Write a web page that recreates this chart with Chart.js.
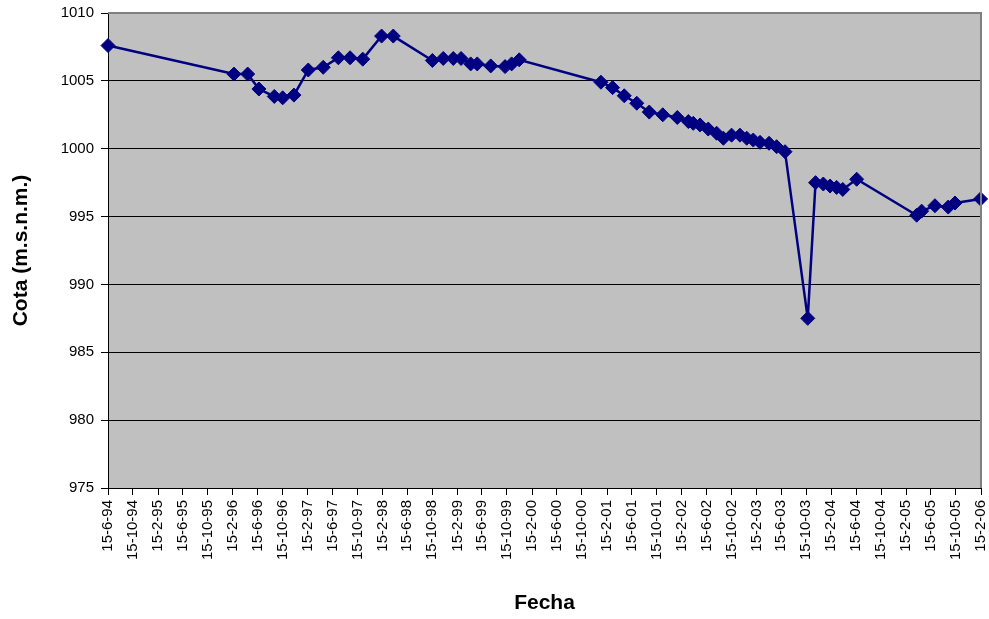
<!DOCTYPE html>
<html lang="es">
<head>
<meta charset="utf-8">
<title>Cota vs Fecha</title>
<script src="https://cdn.jsdelivr.net/npm/chart.js@4"></script>
<style>
  html, body { margin: 0; padding: 0; background: #ffffff; }
  #wrap { width: 989px; height: 619px; }
</style>
</head>
<body>
<div id="wrap"><canvas id="grafico" width="989" height="619"></canvas></div>
<script>
// Fechas de medición (AAAA-MM-DD)
const fechas = [
  "1994-06-15","1996-02-20","1996-04-27","1996-06-21","1996-09-04","1996-10-15",
  "1996-12-09","1997-02-17","1997-05-01","1997-07-14","1997-09-09","1997-11-10",
  "1998-02-10","1998-04-08","1998-10-16","1998-12-08","1999-01-26","1999-03-05",
  "1999-04-21","1999-05-23","1999-07-28","1999-10-06","1999-11-07","1999-12-14",
  "2001-01-16","2001-03-14","2001-05-10","2001-07-10","2001-09-09","2001-11-14",
  "2002-01-24","2002-03-19","2002-04-12","2002-05-15","2002-06-24","2002-08-04",
  "2002-09-06","2002-10-16","2002-11-26","2002-12-29","2003-01-30","2003-03-04",
  "2003-04-17","2003-05-24","2003-07-04","2003-10-23","2003-11-30","2004-01-07",
  "2004-02-09","2004-03-12","2004-04-11","2004-06-18","2005-04-07","2005-05-01",
  "2005-07-05","2005-09-08","2005-10-11","2006-02-13"
];

// Cota del nivel (m.s.n.m.)
const cotas = [
  1007.6, 1005.5, 1005.5, 1004.4, 1003.85, 1003.75,
  1003.95, 1005.8, 1006.0, 1006.7, 1006.7, 1006.6,
  1008.3, 1008.3, 1006.5, 1006.65, 1006.65, 1006.65,
  1006.25, 1006.25, 1006.1, 1006.05, 1006.25, 1006.55,
  1004.9, 1004.5, 1003.9, 1003.35, 1002.7, 1002.5,
  1002.3, 1002.0, 1001.87, 1001.75, 1001.45, 1001.14,
  1000.77, 1001.0, 1001.0, 1000.77, 1000.64, 1000.47,
  1000.4, 1000.15, 999.78, 987.5, 997.5, 997.4,
  997.25, 997.15, 997.0, 997.75, 995.1, 995.4,
  995.8, 995.7, 996.0, 996.3
];

// Etiquetas del eje de fechas (cada 4 meses)
const etiquetasFecha = [
  "15-6-94","15-10-94","15-2-95","15-6-95","15-10-95","15-2-96","15-6-96","15-10-96",
  "15-2-97","15-6-97","15-10-97","15-2-98","15-6-98","15-10-98","15-2-99","15-6-99",
  "15-10-99","15-2-00","15-6-00","15-10-00","15-2-01","15-6-01","15-10-01","15-2-02",
  "15-6-02","15-10-02","15-2-03","15-6-03","15-10-03","15-2-04","15-6-04","15-10-04",
  "15-2-05","15-6-05","15-10-05","15-2-06"
];

// Escala vertical
const cotaMin = 975, cotaMax = 1010, cotaPaso = 5;

const DIA = 86400000;
function diaDeISO(s) {
  const [a, m, d] = s.split("-").map(Number);
  return Date.UTC(a, m - 1, d) / DIA;
}
function diaDeEtiqueta(s) {
  const [d, m, yy] = s.split("-").map(Number);
  const a = yy >= 50 ? 1900 + yy : 2000 + yy;
  return Date.UTC(a, m - 1, d) / DIA;
}

const posTicks = etiquetasFecha.map(diaDeEtiqueta);
const etiquetaPorDia = new Map(posTicks.map((v, i) => [v, etiquetasFecha[i]]));
const puntos = fechas.map((f, i) => ({ x: diaDeISO(f), y: cotas[i] }));

const fuente = "'Liberation Sans', Arial, sans-serif";

// Fondo gris del área de trazado y marco superior/derecho
const fondoArea = {
  id: "fondoArea",
  beforeDraw(chart) {
    const { ctx, chartArea: a } = chart;
    ctx.save();
    ctx.fillStyle = "#c0c0c0";
    ctx.fillRect(a.left, a.top, a.right - a.left, a.bottom - a.top);
    ctx.restore();
  },
  afterDatasetsDraw(chart) {
    const { ctx, chartArea: a } = chart;
    ctx.save();
    ctx.strokeStyle = "#808080";
    ctx.lineWidth = 2;
    ctx.beginPath();
    ctx.moveTo(a.left, a.top);
    ctx.lineTo(a.right, a.top);
    ctx.lineTo(a.right, a.bottom);
    ctx.stroke();
    ctx.restore();
  }
};

new Chart(document.getElementById("grafico"), {
  type: "line",
  data: {
    datasets: [{
      label: "Cota",
      data: puntos,
      borderColor: "#000080",
      backgroundColor: "#000080",
      borderWidth: 2.5,
      pointStyle: "rectRot",
      pointRadius: 7,
      pointBorderWidth: 1,
      pointBackgroundColor: "#000080",
      pointBorderColor: "#000080",
      tension: 0,
      fill: false,
      clip: false
    }]
  },
  options: {
    responsive: false,
    animation: false,
    events: [],
    layout: { padding: { top: 13, right: 8, left: 0, bottom: 0 } },
    plugins: {
      legend: { display: false },
      tooltip: { enabled: false }
    },
    scales: {
      x: {
        type: "linear",
        min: posTicks[0],
        max: posTicks[posTicks.length - 1],
        afterBuildTicks(scale) {
          scale.ticks = posTicks.map(v => ({ value: v }));
        },
        afterFit(scale) {
          scale.height = 131;
          scale.paddingLeft = 0;
          scale.paddingRight = 0;
        },
        ticks: {
          autoSkip: false,
          minRotation: 90,
          maxRotation: 90,
          padding: 5,
          color: "#000000",
          font: { family: fuente, size: 15 },
          callback: (v) => etiquetaPorDia.get(v) || ""
        },
        grid: {
          drawOnChartArea: false,
          drawTicks: true,
          tickLength: 7,
          color: "#000000"
        },
        border: { display: true, color: "#000000", width: 1 },
        title: {
          display: true,
          text: "Fecha",
          color: "#000000",
          font: { family: fuente, size: 21, weight: "bold" },
          padding: { top: 0, bottom: 3 }
        }
      },
      y: {
        type: "linear",
        min: cotaMin,
        max: cotaMax,
        afterFit(scale) {
          scale.width = 108;
          scale.paddingTop = 0;
          scale.paddingBottom = 0;
        },
        ticks: {
          stepSize: cotaPaso,
          padding: 7,
          color: "#000000",
          font: { family: fuente, size: 15 },
          callback: (v) => String(v)
        },
        grid: {
          color: "#000000",
          lineWidth: 1,
          drawTicks: true,
          tickLength: 7
        },
        border: { display: true, color: "#000000", width: 1 },
        title: {
          display: true,
          text: "Cota (m.s.n.m.)",
          color: "#000000",
          font: { family: fuente, size: 21, weight: "bold" },
          padding: { top: 9, bottom: 0 }
        }
      }
    }
  },
  plugins: [fondoArea]
});
</script>
</body>
</html>
